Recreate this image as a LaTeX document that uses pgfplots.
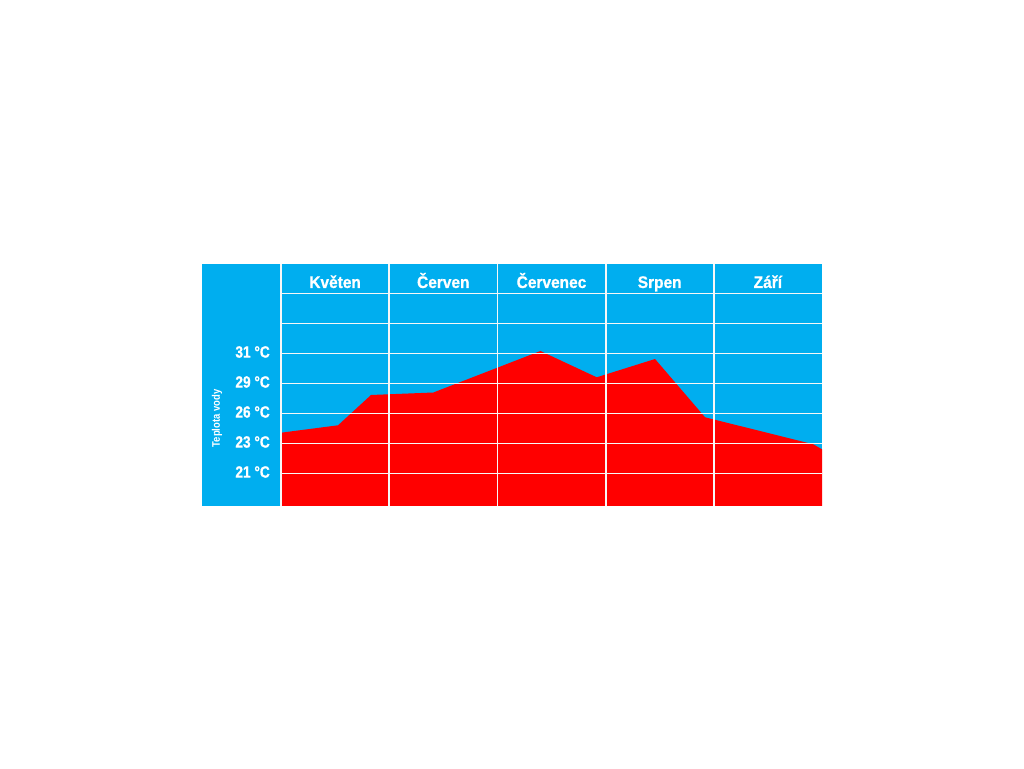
\documentclass[border=0pt]{standalone}
\usepackage{fontspec}
\setmainfont{Liberation Sans}
\newfontfamily\hdrfont{Liberation Sans}[FakeStretch=0.92, FakeBold=0.8]
\newfontfamily\tickfont{Liberation Sans}[FakeStretch=0.84, FakeBold=0.8]
\newfontfamily\labfont{Liberation Sans}[FakeStretch=0.86]
\usepackage{pgfplots}
\pgfplotsset{compat=1.18}
\definecolor{skyblue}{RGB}{0,174,239}
\definecolor{chartred}{RGB}{255,0,0}
\begin{document}
\begin{tikzpicture}
\useasboundingbox (0,0) rectangle (1024pt,768pt);
\fill[skyblue] (202pt,262pt) rectangle (822pt,504pt);
\begin{axis}[
  at={(281pt,262pt)}, anchor=south west,
  scale only axis, width=541pt, height=242pt,
  xmin=0, xmax=5, ymin=0, ymax=8.0667,
  axis line style={draw=none},
  axis on top,
  xtick={0.5,1.5,2.5,3.5,4.5},
  xticklabels={Květen,Červen,Červenec,Srpen,Září},
  xticklabel pos=top,
  xticklabel style={anchor=base, inner sep=0pt, yshift=-24pt, text=white, font=\hdrfont\bfseries\fontsize{16.8}{18}\selectfont},
  minor xtick={0,1,2,3,4},
  ytick={1.0833,2.0833,3.0833,4.0833,5.0833,6.0833,7.0833},
  yticklabels={21 °C,23 °C,26 °C,29 °C,31 °C,,},
  yticklabel style={anchor=east, inner sep=0pt, xshift=-11pt, yshift=1.5pt, text=white, font=\tickfont\bfseries\fontsize{16.3}{18}\selectfont},
  major tick length=0pt, minor tick length=0pt,
  tick style={draw=none},
  xminorgrids, ymajorgrids,
  grid style={white!94!gray, line width=1.8pt},
  minor grid style={white!94!gray, line width=1.8pt},
  ylabel={Teplota vody},
  ylabel style={at={(axis description cs:-0.1183,0.3616)}, anchor=center, text=white, font=\labfont\bfseries\fontsize{11}{12}\selectfont},
]
\addplot[fill=chartred, draw=none] table {
x y
0     2.443
0.527 2.690
0.832 3.700
1.408 3.783
2.398 5.167
2.918 4.290
3.457 4.900
3.919 2.957
4.920 2.057
5     1.890
} \closedcycle;
\end{axis}
\end{tikzpicture}
\end{document}
